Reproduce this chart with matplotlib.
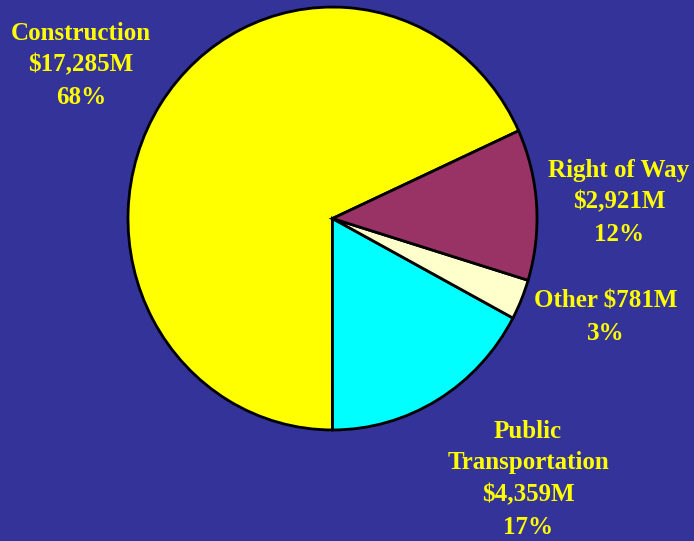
import matplotlib.pyplot as plt

# slices in drawing order (counter-clockwise from the upper right)
names = ['Construction', 'Public Transportation', 'Other', 'Right of Way']
values = [17285, 4359, 781, 2921]
colors = ['#FFFF00', '#00FFFF', '#FFFFCC', '#993366']
labels = ['Construction\n$17,285M\n68%',
          'Public\nTransportation\n$4,359M\n17%',
          'Other $781M\n3%',
          'Right of Way\n$2,921M\n12%']
label_pos = [(81, 65), (528, 479), (606, 317), (619, 202)]

W, H = 694, 541
stretch = 1.034  # pie in the original is a little taller than wide

bg = '#333399'
fig = plt.figure(figsize=(W / 100, H / 100), dpi=100, facecolor=bg)
ax = fig.add_axes([0, 0, 1, 1])
ax.set_facecolor(bg)

ax.pie(values, colors=colors, startangle=24.5, counterclock=True,
       center=(332.5, (H - 218.5) / stretch), radius=204.5, frame=True,
       wedgeprops=dict(edgecolor='black', linewidth=2))
ax.set_aspect('auto')
ax.set_xlim(0, W)
ax.set_ylim(0, H / stretch)
ax.axis('off')

for txt, (x, y) in zip(labels, label_pos):
    fig.text(x / W, 1 - y / H, txt, ha='center', va='center', color='#FFFF00',
             fontsize=18, fontweight='bold', family='Liberation Serif',
             linespacing=1.5)

fig.savefig('out.png', dpi=100, facecolor=bg)
